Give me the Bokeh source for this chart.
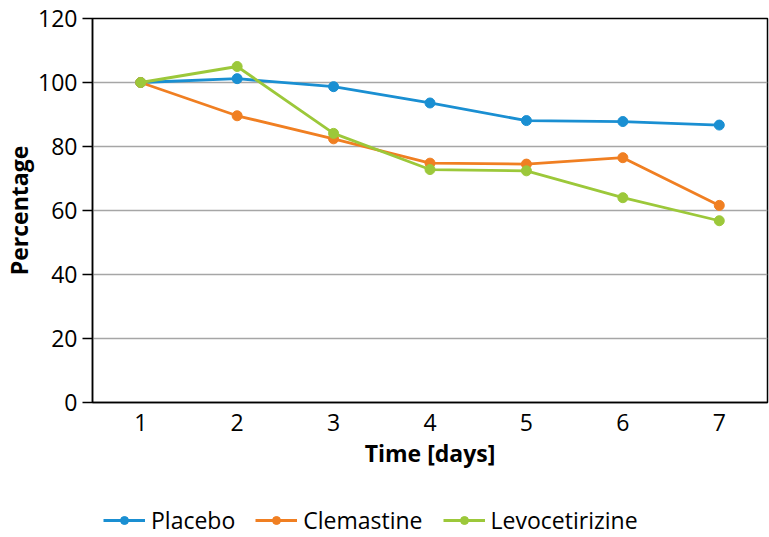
from bokeh.plotting import figure
from bokeh.models import Legend, LegendItem, FixedTicker, Range1d
from bokeh.layouts import column
from bokeh.embed import file_html
from bokeh.resources import INLINE

days = [1, 2, 3, 4, 5, 6, 7]
placebo = [100, 101.2, 98.7, 93.6, 88.1, 87.8, 86.7]
clemastine = [100, 89.6, 82.4, 74.8, 74.5, 76.5, 61.6]
levocetirizine = [100, 105.0, 84.1, 72.8, 72.4, 64.0, 56.8]
y_ticks = [0, 20, 40, 60, 80, 100, 120]

series = [
    ("Placebo", placebo, "#1a8fd2"),
    ("Clemastine", clemastine, "#f07f22"),
    ("Levocetirizine", levocetirizine, "#9cc83a"),
]

FONT = "Open Sans"

p = figure(width=769, height=500, output_backend="svg", toolbar_location=None,
           x_range=Range1d(0.5, 7.5), y_range=Range1d(0, 120),
           min_border_left=89, min_border_right=2, min_border_top=18, min_border_bottom=98)

for name, vals, col in series:
    p.line(days, vals, line_color=col, line_width=2.8)
    p.scatter(days, vals, size=10, fill_color=col, line_color=col)

p.outline_line_color = "black"
p.outline_line_width = 1.5
p.background_fill_color = "white"
p.border_fill_color = "white"

p.xgrid.grid_line_color = None
p.ygrid.grid_line_color = "#a6a6a6"
p.ygrid.grid_line_width = 1.5
p.ygrid.ticker = FixedTicker(ticks=y_ticks)

p.yaxis.ticker = FixedTicker(ticks=y_ticks)
p.yaxis.major_tick_out = 10
p.yaxis.major_tick_in = 0
p.yaxis.minor_tick_line_color = None
p.yaxis.major_tick_line_color = "black"
p.yaxis.major_tick_line_width = 1.5
p.yaxis.axis_line_color = "black"
p.yaxis.axis_line_width = 1.5
p.yaxis.major_label_text_font = FONT
p.yaxis.major_label_text_font_size = "23px"
p.yaxis.major_label_text_color = "black"
p.yaxis.major_label_standoff = 5
p.yaxis.axis_label = "Percentage"
p.yaxis.axis_label_text_font = FONT
p.yaxis.axis_label_text_font_size = "23px"
p.yaxis.axis_label_text_font_style = "bold"
p.yaxis.axis_label_text_color = "black"
p.yaxis.axis_label_standoff = 0

p.xaxis.ticker = FixedTicker(ticks=days)
p.xaxis.major_tick_line_color = None
p.xaxis.minor_tick_line_color = None
p.xaxis.axis_line_color = "black"
p.xaxis.axis_line_width = 1.5
p.xaxis.major_label_text_font = FONT
p.xaxis.major_label_text_font_size = "23px"
p.xaxis.major_label_text_color = "black"
p.xaxis.major_label_standoff = 5
p.xaxis.axis_label = "Time [days]"
p.xaxis.axis_label_text_font = FONT
p.xaxis.axis_label_text_font_size = "23px"
p.xaxis.axis_label_text_font_style = "bold"
p.xaxis.axis_label_text_color = "black"
p.xaxis.axis_label_standoff = 3

# legend strip below the chart (its own glyphs lie outside its visible range)
lg = figure(width=769, height=37, output_backend="svg", toolbar_location=None,
            x_range=Range1d(0.5, 7.5), y_range=Range1d(1000, 1001),
            x_axis_location=None, y_axis_location=None, min_border=0)
lg.outline_line_color = None
lg.grid.grid_line_color = None
items = []
for name, vals, col in series:
    r1 = lg.line(days, vals, line_color=col, line_width=2.8)
    r2 = lg.scatter(days, vals, size=7, fill_color=col, line_color=col)
    items.append(LegendItem(label=name, renderers=[r1, r2]))

legend = Legend(items=items, location=(11, 1), orientation="horizontal",
                glyph_width=42, glyph_height=20, label_standoff=6, spacing=20,
                padding=0, margin=0, border_line_color=None, background_fill_alpha=0,
                label_text_font=FONT, label_text_font_size="23px", label_text_color="black")
lg.add_layout(legend, "center")

open("out.html", "w").write(file_html(column(p, lg), INLINE))
